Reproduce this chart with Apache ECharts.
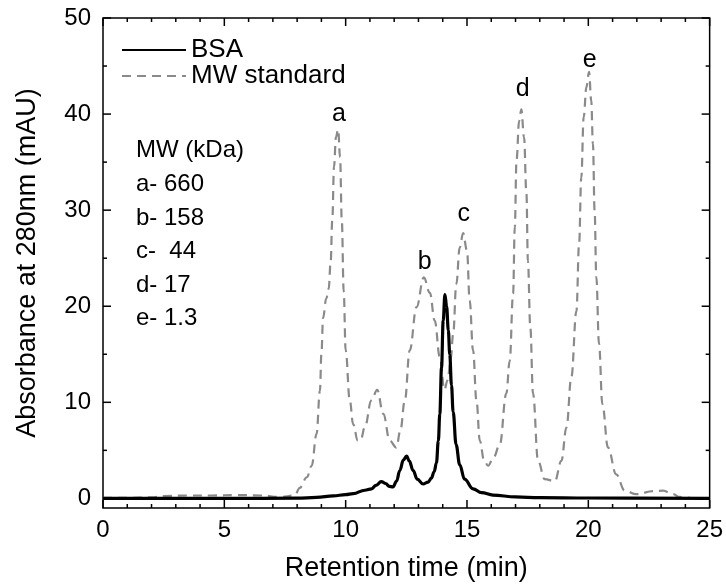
<!DOCTYPE html>
<html>
<head>
<meta charset="utf-8">
<script src="https://cdn.jsdelivr.net/npm/echarts@6/dist/echarts.min.js"></script>
<style>html,body{margin:0;padding:0;background:#fff}#c{width:726px;height:587px}</style>
</head>
<body>
<div id="c"></div>
<script>
// ---- data ----
var mwTime = [0,1,2,2.5,3.5,4.5,5.5,6.5,7.3,7.9,8.11,8.4,8.6,8.8,8.94,9.0,9.07,9.2,9.3,9.38,9.45,9.52,9.6,9.69,9.77,9.84,9.92,10.0,10.17,10.31,10.5,10.62,10.79,11.06,11.3,11.55,11.82,12.09,12.25,12.44,12.64,12.92,13.22,13.47,13.67,13.88,14.07,14.2,14.33,14.43,14.56,14.7,14.84,15.0,15.11,15.25,15.39,15.53,15.7,15.87,16.1,16.35,16.62,16.76,16.9,16.97,17.04,17.15,17.24,17.35,17.45,17.51,17.61,17.72,17.93,18.2,18.62,18.89,19.1,19.3,19.51,19.62,19.71,19.81,19.92,20.03,20.12,20.19,20.26,20.33,20.44,20.58,20.81,21.15,21.5,21.98,22.67,23.08,23.49,23.76,24.2];
var mwAbs  = [0.05,0.05,0.1,0.25,0.3,0.3,0.35,0.3,0.15,0.3,1.1,2.2,3.4,6.7,11.2,15.0,18.8,20.8,21.8,24.5,29.0,34.5,37.6,38.4,35.5,29.0,21.5,15.4,10.2,7.7,6.0,6.1,7.4,10.2,11.3,8.8,6.0,5.3,7.0,10.2,15.4,19.9,23.0,21.4,18.5,14.7,11.3,12.3,14.5,17.1,22.3,26.1,27.6,25.8,20.6,15.4,10.2,6.0,4.0,3.4,4.3,5.6,10.9,14.3,21.3,28.2,35.2,39.3,40.5,37.6,31.7,24.7,17.8,10.9,3.9,2.0,1.8,3.9,7.4,12.6,19.5,26.5,33.4,39.7,42.8,44.4,41.4,36.9,29.9,23.0,16.1,9.8,5.3,2.5,0.8,0.44,0.75,0.8,0.44,0.15,0.05];

var bsaTime = [0,5,8,8.8,9.49,10.0,10.31,10.79,11.07,11.25,11.47,11.65,11.8,11.95,12.1,12.23,12.38,12.51,12.62,12.78,12.95,13.19,13.4,13.53,13.65,13.74,13.82,13.88,13.95,14.02,14.09,14.16,14.23,14.29,14.36,14.43,14.55,14.7,14.9,15.25,15.6,16.07,17,18,20,25];
var bsaAbs  = [0,0,0.02,0.1,0.26,0.4,0.5,0.85,1.0,1.35,1.75,1.55,1.25,1.2,1.8,2.9,4.0,4.4,3.9,2.9,2.0,1.5,1.7,2.1,2.8,3.7,6.0,8.8,13.6,18.5,21.2,20.0,17.5,15.0,11.8,9.0,5.6,3.5,2.0,1.0,0.6,0.35,0.15,0.08,0.04,0];

var peakLabels = ['a','b','c','d','e'];
var peakLabelTime = [9.72,13.26,14.87,17.3,20.06];
var peakLabelAbs = [40.0,24.6,29.6,42.6,45.6];

var xRange = [0, 25];
var yRange = [-1, 50];
var xMajorTicks = [0,5,10,15,20,25];
var xMinorTicks = [1,2,3,4,6,7,8,9,11,12,13,14,16,17,18,19,21,22,23,24];
var yMajorTicks = [0,10,20,30,40,50];
var yMinorTicks = [5,15,25,35,45];

var mwLegendLines = ['MW (kDa)','a- 660','b- 158','c-  44','d- 17','e- 1.3'];

// ---- chart ----
var FONT = "'Liberation Sans', Arial, sans-serif";
function pairs(xs, ys){ return xs.map(function(x,i){ return [x, ys[i]]; }); }

var chart = echarts.init(document.getElementById('c'));
chart.setOption({
  animation:false,
  grid:{left:103, right:16, top:18, bottom:79},
  legend:{
    left:116, top:32, orient:'vertical',
    itemWidth:64, itemHeight:14, itemGap:0,
    itemStyle:{opacity:0},
    textStyle:{fontSize:26, color:'#000', fontFamily:FONT, lineHeight:26},
    data:['BSA','MW standard']
  },
  xAxis:{
    type:'value', min:xRange[0], max:xRange[1], interval:5,
    axisLine:{show:false}, axisTick:{show:false}, splitLine:{show:false},
    axisLabel:{fontSize:24, color:'#000', fontFamily:FONT, margin:10},
    name:'Retention time (min)', nameLocation:'middle', nameGap:47,
    nameTextStyle:{fontSize:27, color:'#000', fontFamily:FONT}
  },
  yAxis:{
    type:'value', min:yRange[0], max:yRange[1],
    axisLine:{show:false}, axisTick:{show:false}, splitLine:{show:false},
    axisLabel:{customValues:yMajorTicks, fontSize:24, color:'#000', fontFamily:FONT, margin:12},
    name:'Absorbance at 280nm (mAU)', nameLocation:'middle', nameGap:62, nameRotate:90,
    nameTextStyle:{fontSize:27, color:'#000', fontFamily:FONT}
  },
  series:[
    {
      name:'MW standard', type:'line',
      data:pairs(mwTime, mwAbs), showSymbol:false, symbol:'none',
      smooth:0.4, smoothMonotone:'x',
      lineStyle:{color:'#8a8a8a', width:2.2, type:[9,6]},
      itemStyle:{color:'#8a8a8a'}
    },
    {
      name:'BSA', type:'line',
      data:pairs(bsaTime, bsaAbs), showSymbol:false, symbol:'none',
      smooth:0.4, smoothMonotone:'x',
      lineStyle:{color:'#000', width:3.2},
      itemStyle:{color:'#000'}
    }
  ]
});

// frame, inside ticks and peak letters, placed through the axes' own scales
function px(t){ return chart.convertToPixel({xAxisIndex:0}, t); }
function py(v){ return chart.convertToPixel({yAxisIndex:0}, v); }
var xL = px(xRange[0]), xR = px(xRange[1]), yB = py(yRange[0]), yT = py(yRange[1]);
var W = xR - xL, H = yB - yT;
var kids = [{type:'rect', shape:{x:0, y:0, width:W, height:H}, style:{fill:'none', stroke:'#000', lineWidth:1.5}}];
function xt(vals, len){
  vals.forEach(function(t){
    var x = px(t) - xL;
    kids.push({type:'line', shape:{x1:x, y1:H, x2:x, y2:H - len}, style:{stroke:'#000', lineWidth:1.5}});
    kids.push({type:'line', shape:{x1:x, y1:0, x2:x, y2:len}, style:{stroke:'#000', lineWidth:1.5}});
  });
}
function yt(vals, len){
  vals.forEach(function(v){
    var y = py(v) - yT;
    kids.push({type:'line', shape:{x1:0, y1:y, x2:len, y2:y}, style:{stroke:'#000', lineWidth:1.5}});
    kids.push({type:'line', shape:{x1:W, y1:y, x2:W - len, y2:y}, style:{stroke:'#000', lineWidth:1.5}});
  });
}
xt(xMajorTicks, 8); xt(xMinorTicks, 4);
yt(yMajorTicks, 8); yt(yMinorTicks, 4);

var g = [{
  type:'text', left:136, top:134, z:10,
  style:{text:mwLegendLines.join('\n'), font:'24px ' + FONT, fill:'#000', lineHeight:33.6}
}, {
  type:'group', x:xL, y:yT, z:20, silent:true, children:kids
}];
peakLabels.forEach(function(n, i){
  g.push({type:'text', z:10, x:px(peakLabelTime[i]), y:py(peakLabelAbs[i]),
    style:{text:n, font:'25px ' + FONT, fill:'#000', align:'center', verticalAlign:'middle'}});
});
chart.setOption({graphic:g});
</script>
</body>
</html>
